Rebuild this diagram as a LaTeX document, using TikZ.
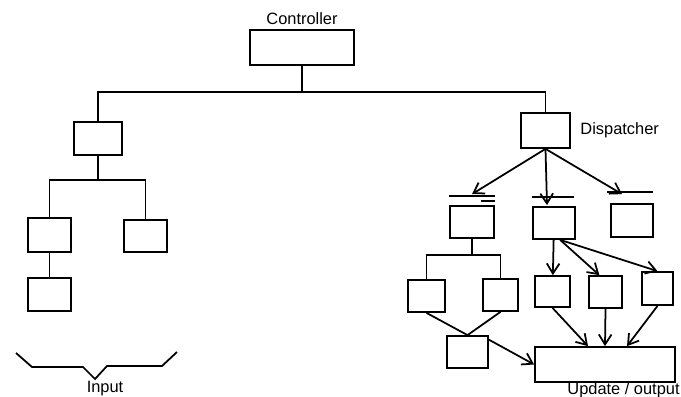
\documentclass[tikz,border=0pt]{standalone}
\usepackage{fontspec}
\setmainfont{Liberation Sans}
\usetikzlibrary{arrows.meta,positioning,calc}
\tikzset{
 blk/.style 2 args={draw,line width=1.5pt,inner sep=0pt,minimum width=#1*.03cm,minimum height=#2*.03cm},
 lbl/.style={font=\fontsize{14}{16}\selectfont,inner sep=1pt},
 ln/.style={line width=1.5pt},
 topln/.style={line width=1.2pt},
 arr/.style={ln,-{Straight Barb[length=3mm,width=3.8mm]}}
}
\begin{document}
\begin{tikzpicture}[x=.03cm,y=-.03cm]
\useasboundingbox (0,0) rectangle (681,396);
\node[blk={104}{35}] (ctrl) at (302,47.5) {};
\node[blk={48}{33}] (lbox) at (98,138.5) {};
\node[blk={43}{34}] (la) at (49.5,235) {};
\node[blk={43}{32}] (lb) at (145.5,236) {};
\node[blk={43}{33}] (lc) at (49.5,294.5) {};
\node[blk={49}{35}] (disp) at (545.5,130.5) {};
\node[blk={44}{32}] (ra) at (472,222) {};
\node[blk={42}{32}] (rb) at (554,223) {};
\node[blk={42}{33}] (rc) at (632,220.5) {};
\node[blk={37}{32}] (rd) at (426.5,296) {};
\node[blk={35}{32}] (re) at (500.5,295) {};
\node[blk={41}{32}] (rf) at (467.5,352) {};
\node[blk={35}{31}] (rg) at (552.5,291.5) {};
\node[blk={33}{32}] (rh) at (605.5,292) {};
\node[blk={31}{33}] (ri) at (657.5,288.5) {};
\node[blk={140}{35}] (upd) at (605,364.5) {};

\node[lbl,above=3pt of ctrl] (ctrllbl) {Controller};
\node[lbl,right=7pt of disp] (displbl) {Dispatcher};
\node[lbl,anchor=north east] (updlbl) at (681,381) {Update / output};
\node[lbl,anchor=north] (inlbl) at (105,380) {Input};

\coordinate (bus) at (302,92);
\draw[ln] (ctrl) -- (bus);
\draw[ln] (lbox) |- (bus) -| (disp);
\coordinate (lbus) at (98,180);
\draw[ln] (lbox) -- (lbus);
\draw[ln] (la) |- (lbus) -| (lb);
\draw[ln] (la) -- (lc);

\draw[ln] (16,353) -- (32,367) -- (83,367) -- (95,379) -- (107,366) -- (162,366) -- (177,352);

\draw[arr] (disp.south) -- ($(ra.north)+(0,-11)$);
\draw[arr] (disp.south) -- ($(rb.north)+(-7,-1)$);
\draw[arr] (disp.south) -- ($(rc.north)+(-10,-9)$);
\draw[topln] ($(ra.north west)+(0,-9)$) -- ($(ra.north east)+(0,-9)$);
\draw[topln] ($(ra.north east)+(-14,-4)$) -- ($(ra.north east)+(0,-4)$);
\draw[topln] ($(rb.north west)+(0,-9)$) -- ($(rb.north east)+(-2,-9)$);
\draw[topln] ($(rc.north west)+(-3,-11)$) -- ($(rc.north east)+(-1,-11)$);

\coordinate (rbus) at (472,255);
\draw[ln] (ra) -- (rbus);
\draw[ln] (rd) |- (rbus) -| (re);
\draw[ln] (rd.south) -- (rf.north);
\draw[ln] (re.south) -- (rf.north);
\draw[arr] (rf.30) -- (upd.west);

\draw[arr] (rb) -- (rg);
\draw[arr] (rb.290) -- (rh.110);
\draw[arr] (rb.290) -- (ri.north);
\foreach \n/\dx in {rg/-17,rh/0,ri/22}
 \draw[arr] (\n.south) -- ($(upd.north)+(\dx,0)$);
\end{tikzpicture}
\end{document}
